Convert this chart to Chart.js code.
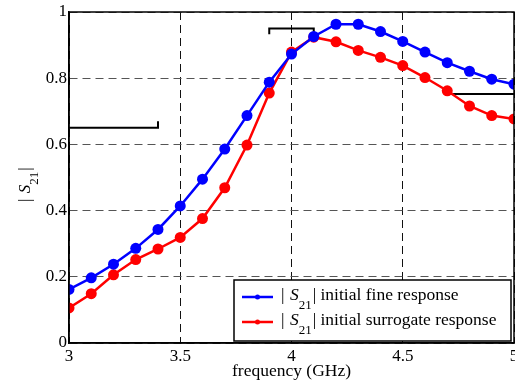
<!DOCTYPE html>
<html>
<head>
<meta charset="utf-8">
<script src="https://cdn.jsdelivr.net/npm/chart.js@4/dist/chart.umd.min.js"></script>
<style>
  html, body { margin: 0; padding: 0; background: #fff; }
  #wrap { width: 515px; height: 380px; position: relative; }
</style>
</head>
<body>
<div id="wrap"><canvas id="c" width="515" height="380"></canvas></div>
<script>
// ---- data ----
const freq = [3.0, 3.1, 3.2, 3.3, 3.4, 3.5, 3.6, 3.7, 3.8, 3.9, 4.0, 4.1, 4.2, 4.3, 4.4, 4.5, 4.6, 4.7, 4.8, 4.9, 5.0];
const fineResponse = [0.162, 0.197, 0.238, 0.286, 0.343, 0.414, 0.495, 0.586, 0.687, 0.788, 0.873, 0.926, 0.963, 0.963, 0.941, 0.911, 0.879, 0.847, 0.821, 0.797, 0.782];
const surrogateResponse = [0.106, 0.149, 0.206, 0.252, 0.284, 0.319, 0.376, 0.469, 0.598, 0.755, 0.879, 0.924, 0.910, 0.884, 0.863, 0.838, 0.802, 0.762, 0.716, 0.687, 0.677];
const spec1X = [3.0, 3.4, 3.4];
const spec1Y = [0.65, 0.65, 0.67];
const spec2X = [3.9, 3.9, 4.1, 4.1];
const spec2Y = [0.933, 0.95, 0.95, 0.933];
const spec3X = [4.7, 4.7, 5.0];
const spec3Y = [0.77, 0.752, 0.752];
const xTicks = [3, 3.5, 4, 4.5, 5];
const yTicks = [0, 0.2, 0.4, 0.6, 0.8, 1];
const seriesNames = ['initial fine response', 'initial surrogate response'];
const xTitle = 'frequency (GHz)';

const SERIF = '"Liberation Serif", "DejaVu Serif", serif';
const pts = (xs, ys) => xs.map((x, i) => ({ x: x, y: ys[i] }));

const specStyle = { borderColor: '#000', borderWidth: 2, pointRadius: 0, fill: false, tension: 0 };

// draws "|S21|" label with subscript; returns width
function drawS21(ctx, x, y, size, subDrop) {
  ctx.font = size + 'px ' + SERIF;
  ctx.fillText('|', x, y);
  let cx = x + ctx.measureText('| ').width + 1;
  ctx.font = 'italic ' + size + 'px ' + SERIF;
  ctx.fillText('S', cx, y);
  cx += ctx.measureText('S').width;
  const sub = Math.round(size * 0.76);
  ctx.font = sub + 'px ' + SERIF;
  ctx.fillText('21', cx, y + subDrop);
  cx += ctx.measureText('21').width + 1;
  ctx.font = size + 'px ' + SERIF;
  ctx.fillText('|', cx, y);
  cx += ctx.measureText('|').width;
  return cx - x;
}

const overlay = {
  id: 'overlay',
  afterDraw(chart) {
    const ctx = chart.ctx;
    const a = chart.chartArea;
    ctx.save();
    // frame
    ctx.strokeStyle = '#000';
    ctx.lineWidth = 1.5;
    ctx.setLineDash([]);
    ctx.strokeRect(a.left, a.top, a.right - a.left, a.bottom - a.top);

    // y axis title
    ctx.fillStyle = '#000';
    ctx.textBaseline = 'alphabetic';
    ctx.textAlign = 'left';
    ctx.save();
    ctx.translate(30, 181);
    ctx.rotate(-Math.PI / 2);
    drawS21(ctx, -21, 0, 17, 8);
    ctx.restore();

    // legend
    const lx = 234, ly = 280, lw = 277, lh = 61;
    ctx.fillStyle = '#fff';
    ctx.fillRect(lx, ly, lw, lh);
    ctx.strokeStyle = '#000';
    ctx.lineWidth = 1.5;
    ctx.strokeRect(lx, ly, lw, lh);
    const colors = [chart.data.datasets[0].borderColor, chart.data.datasets[1].borderColor];
    const rows = [300, 325];
    for (let i = 0; i < 2; i++) {
      const by = rows[i];
      ctx.strokeStyle = colors[i];
      ctx.lineWidth = 2.5;
      ctx.beginPath();
      ctx.moveTo(242, by - 3);
      ctx.lineTo(273, by - 3);
      ctx.stroke();
      ctx.fillStyle = colors[i];
      ctx.beginPath();
      ctx.arc(257.5, by - 3, 2.5, 0, Math.PI * 2);
      ctx.fill();
      ctx.fillStyle = '#000';
      const sw = drawS21(ctx, 281, by, 17.5, 9);
      ctx.font = '17.5px ' + SERIF;
      ctx.fillText(' ' + seriesNames[i], 281 + sw, by);
    }
    ctx.restore();
  }
};

new Chart(document.getElementById('c'), {
  type: 'line',
  data: {
    datasets: [
      { label: seriesNames[0], data: pts(freq, fineResponse), borderColor: '#0000ff', backgroundColor: '#0000ff',
        borderWidth: 2.5, pointRadius: 5.5, pointBorderWidth: 0, pointBackgroundColor: '#0000ff', tension: 0 },
      { label: seriesNames[1], data: pts(freq, surrogateResponse), borderColor: '#ff0000', backgroundColor: '#ff0000',
        borderWidth: 2.5, pointRadius: 5.5, pointBorderWidth: 0, pointBackgroundColor: '#ff0000', tension: 0 },
      Object.assign({ data: pts(spec1X, spec1Y) }, specStyle),
      Object.assign({ data: pts(spec2X, spec2Y) }, specStyle),
      Object.assign({ data: pts(spec3X, spec3Y) }, specStyle)
    ]
  },
  options: {
    responsive: false,
    animation: false,
    devicePixelRatio: 1,
    layout: { autoPadding: false, padding: { top: 12, right: 1, left: 0, bottom: 0 } },
    plugins: { legend: { display: false }, tooltip: { enabled: false } },
    scales: {
      x: {
        type: 'linear', min: 3, max: 5,
        afterBuildTicks: s => { s.ticks = xTicks.map(v => ({ value: v })); },
        afterFit: s => { s.height = 37; s.paddingLeft = 0; s.paddingRight = 0; },
        grid: { color: '#111', lineWidth: 1, drawTicks: false },
        border: { display: true, color: '#000', width: 1.5, dash: [8, 5] },
        ticks: { color: '#000', font: { family: SERIF, size: 17 }, padding: 3, maxRotation: 0,
                 callback: v => String(v) },
        title: { display: true, text: xTitle, color: '#000', font: { family: SERIF, size: 17.5 }, padding: { top: 0, bottom: -2 } }
      },
      y: {
        type: 'linear', min: 0, max: 1,
        afterBuildTicks: s => { s.ticks = yTicks.map(v => ({ value: v })); },
        afterFit: s => { s.width = 69; s.paddingTop = 0; s.paddingBottom = 0; },
        grid: { color: '#555', lineWidth: 1, drawTicks: false },
        border: { display: true, color: '#000', width: 1.5, dash: [8, 5] },
        ticks: { color: '#000', font: { family: SERIF, size: 17 }, padding: 2,
                 callback: v => String(v) }
      }
    }
  },
  plugins: [overlay]
});
</script>
</body>
</html>
